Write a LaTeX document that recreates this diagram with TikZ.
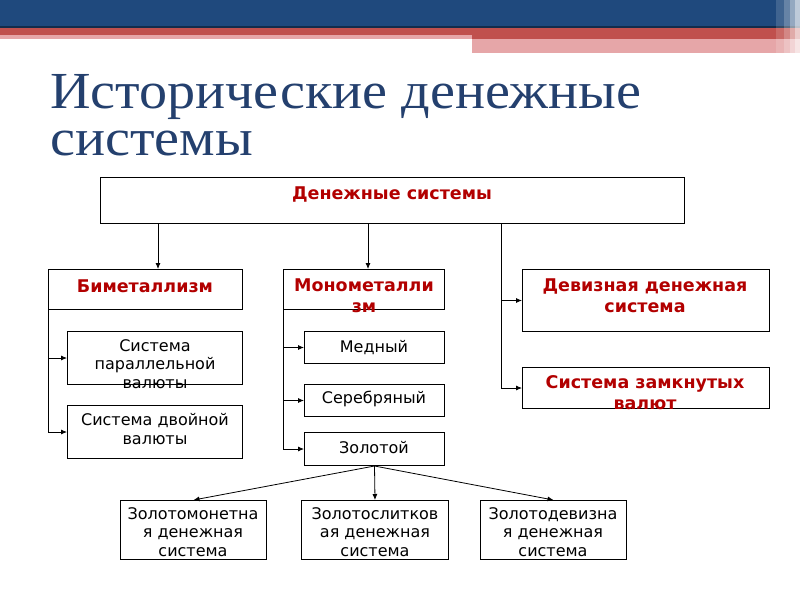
\documentclass[tikz,border=0pt]{standalone}
\usepackage{fontspec}
\setmainfont{DejaVu Sans}
\newfontfamily\titlefont[FakeStretch=1.08]{Liberation Serif}
\usetikzlibrary{arrows.meta}
\definecolor{barblue}{RGB}{31,73,125}
\definecolor{barred}{RGB}{192,80,77}
\definecolor{barpink}{RGB}{230,166,168}
\definecolor{titleblue}{RGB}{36,64,110}
\definecolor{darkred}{RGB}{178,0,0}
\begin{document}
\begin{tikzpicture}[x=1pt,y=-1pt,
  box/.style={draw,line width=1pt,inner sep=0pt,anchor=north west},
  lbl/.style={anchor=base,inner sep=0pt,align=center,font=\fontsize{16}{18.5}\selectfont},
  blbl/.style={anchor=base,inner sep=0pt,align=center,font=\fontsize{17.5}{20.5}\selectfont\bfseries,text=darkred},
  conn/.style={line width=0.8pt,-{Latex[length=6pt,width=5pt]}},
  line/.style={line width=0.8pt}
]
\useasboundingbox (0,0) rectangle (800,600);
% header bars
\fill[barblue] (0,0) rectangle (800,27);
\fill[barblue!60!black] (0,26) rectangle (800,28);
\fill[barred] (0,28) rectangle (800,35);
\fill[barpink] (0,35) rectangle (472,39);
\fill[barred] (472,35) rectangle (800,39);
\fill[barpink] (472,39) rectangle (800,53);
\fill[white,opacity=0.15] (776,0) rectangle (800,53);
\fill[white,opacity=0.2] (784,0) rectangle (800,53);
\fill[white,opacity=0.3] (790,0) rectangle (800,53);
\fill[white,opacity=0.4] (795,0) rectangle (800,53);
% title (base anchor = last line)
\node[anchor=base west,inner sep=0pt,align=left,text=titleblue,
      font=\titlefont\fontsize{52}{47}\selectfont] (title) at (50,155)
      {Исторические денежные\\системы};
% boxes
\node[box,minimum width=584pt,minimum height=46pt] (top) at (100,177) {};
\node[box,minimum width=194pt,minimum height=40pt] (bim) at (48,269) {};
\node[box,minimum width=161pt,minimum height=40pt] (mono) at (283,269) {};
\node[box,minimum width=247pt,minimum height=62pt] (dev) at (522,269) {};
\node[box,minimum width=247pt,minimum height=41pt] (zam) at (522,367) {};
\node[box,minimum width=175pt,minimum height=53pt] (par) at (67,331) {};
\node[box,minimum width=175pt,minimum height=53pt] (dvo) at (67,405) {};
\node[box,minimum width=140pt,minimum height=32pt] (med) at (304,331) {};
\node[box,minimum width=140pt,minimum height=32pt] (ser) at (304,384) {};
\node[box,minimum width=140pt,minimum height=33pt] (zol) at (304,432) {};
\node[box,minimum width=146pt,minimum height=59pt] (zm) at (120,500) {};
\node[box,minimum width=147pt,minimum height=59pt] (zs) at (301,500) {};
\node[box,minimum width=146pt,minimum height=59pt] (zd) at (480,500) {};
% labels (base anchor at baseline of the last line)
\node[blbl] (ttop) at (392,199) {Денежные системы};
\node[blbl] (tbim) at (145,292) {Биметаллизм};
\node[blbl] (tmono) at (364,312) {Монометалли\\зм};
\node[blbl] (tdev) at (645,312) {Девизная денежная\\система};
\node[blbl] (tzam) at (645,409) {Система замкнутых\\валют};
\node[lbl] (tpar) at (155,388) {Система\\параллельной\\валюты};
\node[lbl] (tdvo) at (155,444) {Система двойной\\валюты};
\node[lbl] (tmed) at (374,352) {Медный};
\node[lbl] (tser) at (374,403) {Серебряный};
\node[lbl] (tzol) at (374,453) {Золотой};
\node[lbl] (tzm) at (193,556) {Золотомонетна\\я денежная\\система};
\node[lbl] (tzs) at (375,556) {Золотослитков\\ая денежная\\система};
\node[lbl] (tzd) at (553,556) {Золотодевизна\\я денежная\\система};
% connectors
\draw[conn] ([xshift=58pt]top.south west) -- ([xshift=58pt]top.south west |- bim.north);
\draw[conn] ([xshift=268pt]top.south west) -- ([xshift=268pt]top.south west |- mono.north);
\coordinate (r) at ([xshift=401pt]top.south west);
\draw[line] (r) -- (r |- zam.west);
\draw[conn] (r |- dev.west) -- (dev.west);
\draw[conn] (r |- zam.west) -- (zam.west);
\draw[line] (bim.south west) -- (bim.south west |- dvo.west);
\draw[conn] (bim.south west |- par.west) -- (par.west);
\draw[conn] (bim.south west |- dvo.west) -- (dvo.west);
\draw[line] (mono.south west) -- (mono.south west |- zol.west);
\draw[conn] (mono.south west |- med.west) -- (med.west);
\draw[conn] (mono.south west |- ser.west) -- (ser.west);
\draw[conn] (mono.south west |- zol.west) -- (zol.west);
\draw[conn] (zol.south) -- (zm.north);
\draw[conn] (zol.south) -- (zs.north);
\draw[conn] (zol.south) -- (zd.north);
\end{tikzpicture}
\end{document}
